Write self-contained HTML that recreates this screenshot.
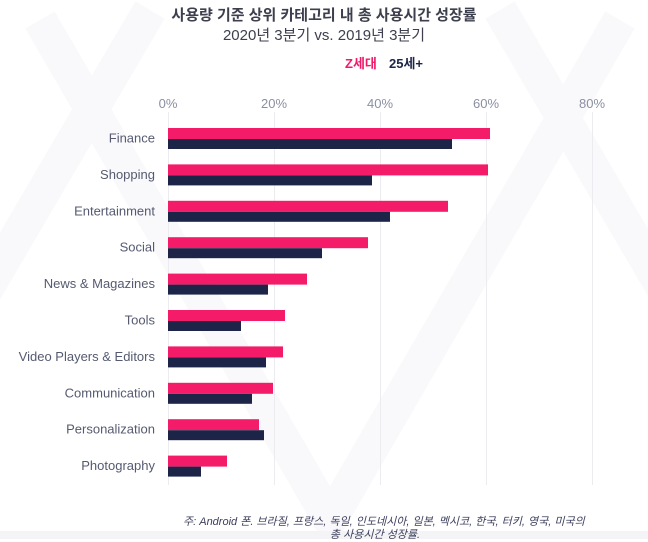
<!DOCTYPE html><html><head><meta charset="utf-8"><style>
body{margin:0;width:648px;height:539px;background:#fff;overflow:hidden;font-family:"Liberation Sans","Noto Sans CJK KR",sans-serif;position:relative}
.t{position:absolute;white-space:nowrap}
</style></head><body>
<svg width="648" height="539" style="position:absolute;left:0;top:0">
<g fill="none" stroke="#f9f9fb" stroke-width="34">
<path d="M40 20 L330 520 L620 20"/><path d="M-20 300 L150 10"/><path d="M500 10 L670 300"/>
</g>
<rect x="0" y="531" width="648" height="8" fill="#f4f4f6"/>
<g stroke="#ececf0" stroke-width="1">
<line x1="168.5" y1="112" x2="168.5" y2="485"/><line x1="274.5" y1="112" x2="274.5" y2="485"/><line x1="380.5" y1="112" x2="380.5" y2="485"/><line x1="486.5" y1="112" x2="486.5" y2="485"/><line x1="592.5" y1="112" x2="592.5" y2="485"/>
</g>
<g font-family="Liberation Sans,sans-serif" font-size="13" fill="#8a8fa3" text-anchor="middle">
<text x="168" y="108">0%</text><text x="274" y="108">20%</text><text x="380" y="108">40%</text><text x="486" y="108">60%</text><text x="592" y="108">80%</text>
</g>
<g id="bars"></g>
</svg>
<div class="t" style="left:0;width:648px;text-align:center;top:4px;font-size:15px;font-weight:bold;color:#3d3f4e">사용량 기준 상위 카테고리 내 총 사용시간 성장률</div>
<div class="t" style="left:0;width:648px;text-align:center;top:24px;font-size:15px;color:#3d3f4e">2020년 3분기 vs. 2019년 3분기</div>
<div class="t" style="left:345px;top:53px;font-size:13px;font-weight:bold;color:#f0196a">Z세대</div>
<div class="t" style="left:389px;top:53px;font-size:13px;font-weight:bold;color:#1c2548">25세+</div>
<div class="t" style="left:183px;top:513px;font-size:11px;font-style:italic;color:#3d3f5e">주: Android 폰. 브라질, 프랑스, 독일, 인도네시아, 일본, 멕시코, 한국, 터키, 영국, 미국의</div>
<div class="t" style="left:150px;width:450px;text-align:center;top:526px;font-size:11px;font-style:italic;color:#3d3f5e">총 사용시간 성장률.</div>
<script>
var d=[["Finance",490,452],["Shopping",488,372],["Entertainment",448,390],["Social",368,322],["News & Magazines",307,268],["Tools",285,241],["Video Players & Editors",283,266],["Communication",273,252],["Personalization",259,264],["Photography",227,201]];
var s='';d.forEach(function(r,i){var c=138+i*36.4;
s+='<rect x="168" y="'+(c-10)+'" width="'+(r[1]-168)+'" height="11" fill="#f41c68"/>';
s+='<rect x="168" y="'+(c+1)+'" width="'+(r[2]-168)+'" height="10" fill="#1c2548"/>';
s+='<text x="155" y="'+(c+4.5)+'" text-anchor="end" font-family="Liberation Sans,sans-serif" font-size="13" fill="#555a70">'+r[0].replace('&','&amp;')+'</text>';});
document.getElementById('bars').innerHTML=s;
</script>
</body></html>
